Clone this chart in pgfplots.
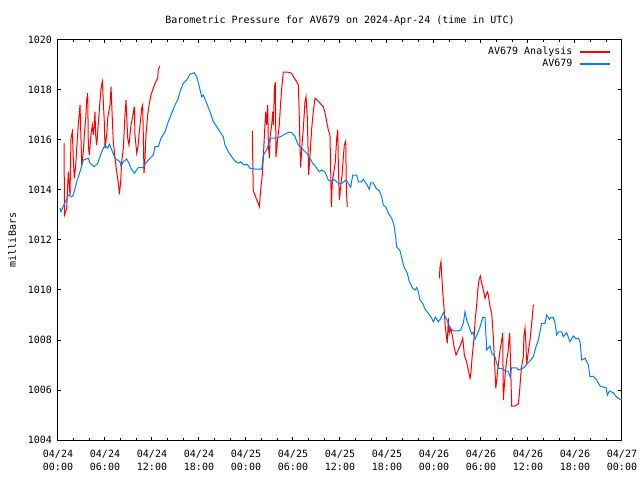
\documentclass[border=0pt]{standalone}
\usepackage{fontspec}
\setmainfont{DejaVu Sans Mono}
\usepackage{pgfplots}
\usepackage{pgfplotstable}
\pgfplotsset{compat=1.18}
\definecolor{gred}{RGB}{255,0,0}
\definecolor{gblue}{RGB}{0,128,255}
\pgfplotsset{every axis title shift=0pt}

\pgfplotstableread{
h p
0.26 1013.28
0.38 1013.13
0.89 1013.50
1.32 1013.80
1.75 1013.73
1.95 1013.80
2.39 1014.33
2.81 1014.73
3.23 1015.20
3.87 1015.27
4.09 1015.07
4.63 1014.93
5.07 1015.07
5.58 1015.53
6.00 1015.80
6.34 1015.67
6.55 1015.83
6.86 1015.60
7.28 1015.27
7.91 1015.13
8.04 1014.96
8.34 1015.13
8.77 1015.24
9.06 1015.07
9.32 1014.87
9.74 1014.67
10.25 1014.90
10.89 1014.90
11.20 1015.07
11.74 1015.27
12.17 1015.40
12.38 1015.73
12.80 1015.73
13.15 1016.07
13.66 1016.33
14.08 1016.73
14.51 1017.07
14.94 1017.40
15.36 1017.67
15.57 1017.93
16.00 1018.27
16.43 1018.40
16.85 1018.63
17.40 1018.69
17.71 1018.53
18.04 1018.13
18.34 1017.73
18.55 1017.80
18.98 1017.47
19.40 1017.13
19.83 1016.73
20.26 1016.53
20.68 1016.33
21.10 1016.13
21.32 1015.80
21.74 1015.53
22.17 1015.33
22.60 1015.16
23.02 1015.07
23.32 1015.13
23.74 1015.00
24.13 1015.03
24.51 1014.87
25.15 1014.84
26.00 1014.83
26.21 1015.40
26.64 1015.60
26.85 1015.80
27.06 1016.07
27.92 1016.07
28.56 1016.16
29.40 1016.31
29.83 1016.30
30.26 1016.13
30.68 1015.80
31.11 1015.67
31.53 1015.53
31.95 1015.40
32.39 1015.13
32.81 1014.96
33.36 1014.73
33.66 1014.80
34.09 1014.71
34.51 1014.40
34.94 1014.33
35.23 1014.43
35.58 1014.33
36.00 1014.24
36.38 1014.30
36.77 1014.40
37.06 1014.27
37.37 1014.11
37.62 1014.60
38.13 1014.60
38.34 1014.33
38.77 1014.33
38.98 1014.43
39.41 1014.23
39.74 1014.03
39.92 1014.29
40.25 1014.29
40.60 1014.07
41.02 1013.97
41.32 1013.73
41.53 1013.40
41.87 1013.31
42.17 1013.07
42.60 1012.87
42.89 1012.60
43.15 1012.00
43.24 1011.73
43.66 1011.57
44.00 1011.13
44.17 1010.93
44.59 1010.67
44.85 1010.33
45.28 1010.07
45.57 1010.00
45.79 1010.10
46.00 1009.93
46.21 1009.60
46.56 1009.47
46.85 1009.23
47.27 1009.07
47.71 1008.87
47.91 1008.73
48.17 1008.91
48.55 1008.73
48.83 1008.85
49.19 1009.09
49.62 1008.83
50.04 1008.47
50.46 1008.37
51.10 1008.37
51.41 1008.40
51.74 1008.67
51.96 1009.13
52.17 1008.80
52.51 1008.51
52.82 1008.24
53.02 1008.30
53.23 1008.03
53.53 1008.24
53.87 1008.51
54.22 1008.91
54.51 1008.91
54.73 1007.60
55.15 1007.76
55.37 1007.47
55.79 1007.33
56.00 1007.07
56.21 1006.87
56.64 1006.87
57.06 1006.76
57.45 1006.76
57.70 1006.53
57.92 1006.89
58.55 1006.89
58.76 1006.80
59.32 1006.87
59.62 1006.93
59.83 1007.04
60.17 1007.13
60.68 1007.33
61.02 1007.73
61.32 1008.00
61.53 1008.33
61.75 1008.67
62.17 1008.67
62.38 1009.00
62.72 1008.83
62.94 1008.91
63.23 1008.91
63.45 1008.67
63.66 1008.20
63.87 1008.33
64.30 1008.33
64.51 1008.13
64.94 1008.29
65.36 1007.93
65.79 1008.16
66.13 1008.05
66.43 1008.07
66.64 1007.93
66.86 1007.20
67.28 1007.27
67.70 1007.00
67.91 1006.53
68.34 1006.55
68.77 1006.40
69.19 1006.16
69.62 1006.11
69.96 1006.11
70.13 1005.80
70.38 1005.96
70.89 1005.89
71.34 1005.71
71.74 1005.63
72.00 1005.60
}\obs

\pgfplotstableread{
h p
0.77 1015.87
0.83 1013.00
1.11 1013.27
1.24 1014.20
1.32 1014.73
1.53 1013.80
1.66 1016.07
1.83 1016.33
1.95 1015.27
2.08 1014.47
2.26 1015.00
2.39 1015.67
2.59 1016.60
2.81 1017.40
3.03 1015.00
3.23 1015.53
3.36 1016.20
3.54 1016.87
3.66 1017.60
3.79 1017.87
3.87 1015.80
4.00 1015.40
4.21 1016.20
4.38 1016.60
4.51 1016.20
4.63 1016.60
4.72 1017.13
4.81 1016.20
4.94 1015.80
5.07 1016.33
5.23 1017.00
5.49 1018.07
5.66 1018.33
5.91 1016.73
6.00 1015.67
6.22 1016.20
6.34 1016.87
6.64 1017.40
6.77 1018.13
6.93 1016.87
7.06 1015.93
7.28 1015.27
7.49 1014.73
7.70 1014.27
7.83 1013.83
8.00 1014.33
8.13 1015.13
8.34 1015.67
8.55 1017.00
8.68 1017.60
8.90 1016.07
9.06 1015.80
9.32 1016.60
9.49 1016.87
9.74 1017.33
9.83 1016.20
10.05 1015.47
10.21 1015.73
10.34 1016.20
10.47 1016.60
10.69 1017.27
10.81 1017.40
10.89 1016.20
10.98 1014.67
11.11 1015.27
11.23 1016.20
11.45 1017.00
11.66 1017.47
11.87 1017.80
12.17 1018.07
12.38 1018.27
12.73 1018.47
12.80 1018.80
12.98 1018.96
13.10 nan
24.80 1016.36
24.93 1013.96
25.15 1013.80
25.37 1013.60
25.57 1013.47
25.70 1013.33
25.91 1014.13
26.08 1014.60
26.21 1015.27
26.34 1016.13
26.51 1017.13
26.64 1016.60
26.77 1017.40
26.85 1015.87
26.98 1015.27
27.10 1016.20
27.28 1016.60
27.41 1017.13
27.51 1016.60
27.62 1018.07
27.74 1018.31
27.83 1015.33
28.00 1015.93
28.25 1016.60
28.43 1017.53
28.56 1018.07
28.76 1018.71
29.40 1018.71
29.83 1018.67
30.13 1018.49
30.47 1018.33
30.68 1018.20
30.77 1017.33
30.89 1015.80
30.98 1014.90
31.11 1015.67
31.32 1016.47
31.53 1017.53
31.66 1017.73
31.83 1016.87
32.00 1014.60
32.17 1015.40
32.39 1016.47
32.59 1017.13
32.81 1017.67
33.10 1017.60
33.45 1017.47
33.87 1017.33
34.09 1017.07
34.30 1016.73
34.51 1016.40
34.72 1016.20
34.81 1014.87
34.89 1013.33
35.02 1014.33
35.15 1014.60
35.28 1014.87
35.40 1015.13
35.58 1016.07
35.71 1016.40
35.79 1015.00
35.92 1013.60
36.10 1014.20
36.26 1014.60
36.43 1015.33
36.55 1015.80
36.73 1015.96
36.81 1014.00
36.93 1013.33
37.00 nan
48.68 1010.47
48.77 1010.93
48.89 1011.13
49.11 1009.93
49.28 1009.27
49.44 1008.53
49.62 1008.07
49.70 1007.87
49.83 1008.87
49.96 1008.27
50.13 1008.47
50.38 1008.13
50.55 1007.73
50.81 1007.40
51.10 1007.60
51.32 1007.76
51.53 1007.93
51.66 1008.07
51.74 1007.87
51.87 1007.40
52.09 1007.20
52.25 1007.00
52.38 1006.80
52.60 1006.47
52.72 1006.73
52.89 1007.40
53.11 1008.07
53.27 1008.87
53.45 1009.40
53.57 1009.93
53.74 1010.40
53.91 1010.56
54.09 1010.27
54.30 1010.00
54.51 1009.67
54.64 1009.80
54.81 1009.93
54.94 1009.80
55.15 1009.33
55.37 1009.07
55.57 1008.13
55.70 1007.33
55.89 1006.07
56.00 1006.40
56.21 1007.00
56.43 1007.60
56.55 1007.80
56.77 1008.27
56.85 1005.60
56.94 1006.00
57.06 1006.53
57.28 1007.20
57.45 1007.53
57.57 1008.00
57.66 1008.27
57.75 1007.30
57.92 1005.36
58.34 1005.36
58.76 1005.44
58.89 1005.80
59.06 1006.53
59.19 1006.93
59.40 1007.33
59.49 1008.20
59.62 1008.47
59.74 1007.80
59.83 1007.00
59.94 1007.30
60.13 1007.73
60.26 1008.00
60.38 1008.40
60.51 1008.80
60.68 1009.40
60.81 1009.40
}\ana

\begin{document}
\begin{tikzpicture}
\path[use as bounding box] (-58pt,-40pt) rectangle (582pt,440pt);
\begin{axis}[
  at={(0pt,0pt)}, anchor=south west,
  scale only axis, width=564pt, height=400pt,
  xmin=0, xmax=72, ymin=1004, ymax=1020,
  font=\fontsize{10}{12}\selectfont,
  axis line style={line width=1pt, black},
  tick style={line width=1pt, black},
  tick align=inside,
  xtick pos=both, ytick pos=both,
  xticklabel pos=lower, yticklabel pos=left,
  major tick length=3.5pt, minor tick length=2.5pt,
  xtick={0,6,...,72},
  minor xtick={2,4,8,10,14,16,20,22,26,28,32,34,38,40,44,46,50,52,56,58,62,64,68,70},
  xticklabels={04/24\\00:00,04/24\\06:00,04/24\\12:00,04/24\\18:00,04/25\\00:00,04/25\\06:00,04/25\\12:00,04/25\\18:00,04/26\\00:00,04/26\\06:00,04/26\\12:00,04/26\\18:00,04/27\\00:00},
  xticklabel style={align=center, yshift=-7pt, font=\fontsize{10}{12.5}\selectfont},
  ytick={1004,1006,...,1020},
  yticklabel style={xshift=-2.5pt},
  /pgf/number format/.cd, set thousands separator={}, assume math mode=true,
  /pgfplots/.cd,
  title={Barometric Pressure for AV679 on 2024-Apr-24 (time in UTC)},
  title style={at={(axis description cs:0.5,1)}, anchor=center, yshift=19pt, inner sep=0pt},
  ylabel={milliBars},
  ylabel style={at={(axis description cs:0,0.5)}, anchor=center, yshift=46pt, inner sep=0pt},
  unbounded coords=jump,
  legend plot pos=right,
  legend cell align=right,
  legend style={at={(1,1)}, anchor=north east, draw=none, fill=none,
    xshift=-10pt, yshift=-3pt, row sep=-1pt, column sep=6pt, inner sep=2pt,
    nodes={inner sep=2pt}},
]
\addlegendimage{legend image code/.code={\fill[color=gred] (0pt,0pt) rectangle (29pt,0.9pt);}}
\addlegendentry{AV679 Analysis}
\addlegendimage{legend image code/.code={\fill[color=gblue] (0pt,0pt) rectangle (29pt,0.9pt);}}
\addlegendentry{AV679}
\addplot[gred, line width=1pt, forget plot] table[x=h, y=p] {\ana};
\addplot[gblue, line width=1pt, forget plot] table[x=h, y=p] {\obs};
\end{axis}
\end{tikzpicture}
\end{document}
